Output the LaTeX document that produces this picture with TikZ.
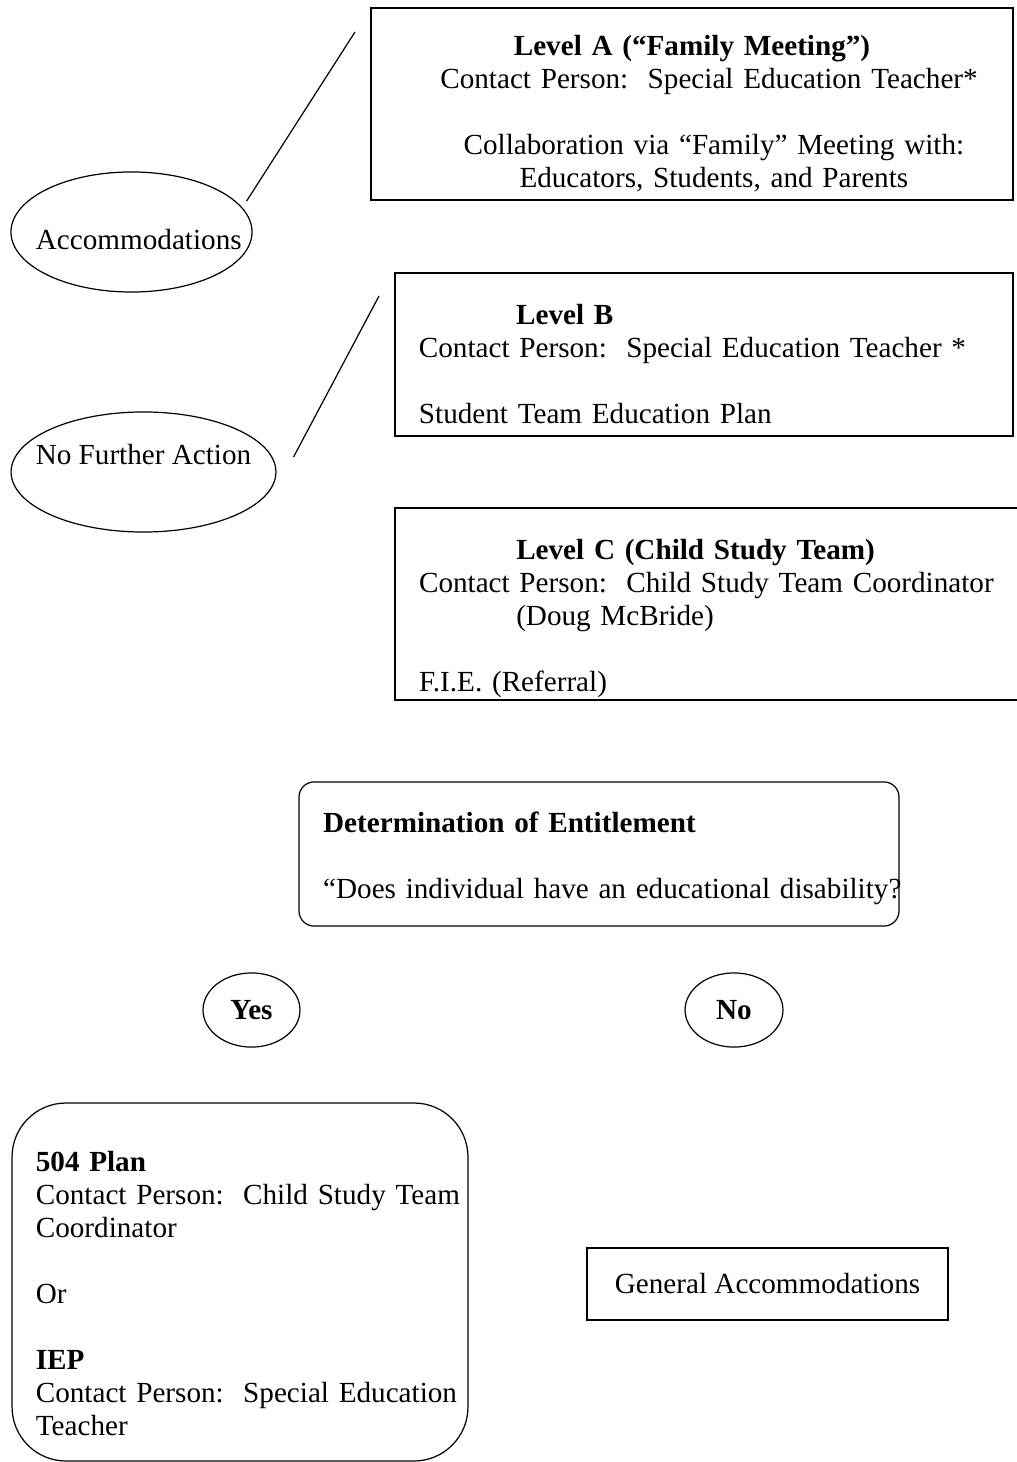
\documentclass[tikz,border=0pt]{standalone}
\usepackage{fontspec}
\setmainfont{Liberation Serif}
\usetikzlibrary{shapes.geometric}
\newcommand{\pxl}{0.4115pt}
\newcommand{\padtop}[1]{\rule{0pt}{#1}}

\begin{document}
\begin{tikzpicture}[x=\pxl,y=-\pxl,font=\fontsize{12}{13.6}\selectfont,
lvlbox/.style={draw,line width=0.5pt,inner sep=0pt,align=left},
oval/.style={ellipse,draw,line width=0.5pt,inner sep=0pt},
link/.style={line width=0.5pt}]
\useasboundingbox (0,0) rectangle (1016,1462);
% the three levels
\node[lvlbox,align=center,text width=260pt,minimum width=264.2pt,minimum height=79pt] (lvlA) at (692,104)
 {\padtop{16pt}\textbf{Level A (“Family Meeting”)}\\
  \hspace*{14pt}Contact Person:\ \ Special Education Teacher*\\[13.6pt]
  \hspace*{18pt}Collaboration via “Family” Meeting with:\\
  \hspace*{18pt}Educators, Students, and Parents};
\node[lvlbox,text width=234.6pt,minimum width=254.3pt,minimum height=67.1pt] (lvlB) at (704,354.5)
 {\padtop{16pt}\hspace*{40pt}\textbf{Level B}\\
  \mbox{Contact Person:\ \ Special Education Teacher *}\\[13.6pt]
  Student Team Education Plan};
\node[lvlbox,text width=237.4pt,minimum width=257.2pt,minimum height=79pt] (lvlC) at (707.5,604)
 {\padtop{20pt}\hspace*{40pt}\textbf{Level C (Child Study Team)}\\
  \mbox{Contact Person:\ \ Child Study Team Coordinator}\\
  \hspace*{40pt}(Doug McBride)\\[13.6pt]
  F.I.E. (Referral)};
% outcomes on the left
\node[oval,minimum width=99.2pt,minimum height=49.4pt,text height=14pt,text depth=0pt] (acc) at (131.5,232) {\makebox[0pt]{\hspace*{6pt}Accommodations}};
\node[oval,minimum width=109pt,minimum height=49.4pt,text height=8pt,text depth=13.8pt] (nfa) at (143.5,472) {\makebox[0pt]{No Further Action}};
\coordinate (lnA) at (355,32);
\coordinate (lnB) at (379,296);
\draw[link] ([shift={(-6,-31)}]acc.east) -- (lnA);
\draw[link] ([shift={(17,-15)}]nfa.east) -- (lnB);
% entitlement
\node[lvlbox,rounded corners=6.2pt,text width=227pt,minimum width=246.9pt,minimum height=59.3pt] (entitle) at (599,854)
 {\padtop{12pt}\textbf{Determination of Entitlement}\\[13.6pt]
  \mbox{“Does individual have an educational disability?}};
\node[oval,minimum width=39.9pt,minimum height=30.5pt] (yes) at (251.5,1010) {\textbf{Yes}};
\node[oval,minimum width=40.3pt,minimum height=30.5pt] (no) at (734,1010) {\textbf{No}};
\node[lvlbox,rounded corners=22.2pt,text width=168pt,minimum width=187.6pt,minimum height=147.3pt] (plan) at (240,1282)
 {\padtop{18pt}\textbf{504 Plan}\\
  \mbox{Contact Person:\ \ Child Study Team}\\
  Coordinator\\[13.6pt]
  Or\\[13.6pt]
  \textbf{IEP}\\
  \mbox{Contact Person:\ \ Special Education}\\
  Teacher};
\node[lvlbox,align=center,minimum width=148.6pt,minimum height=29.6pt] (general) at (767.5,1284) {General Accommodations};
\end{tikzpicture}
\end{document}
